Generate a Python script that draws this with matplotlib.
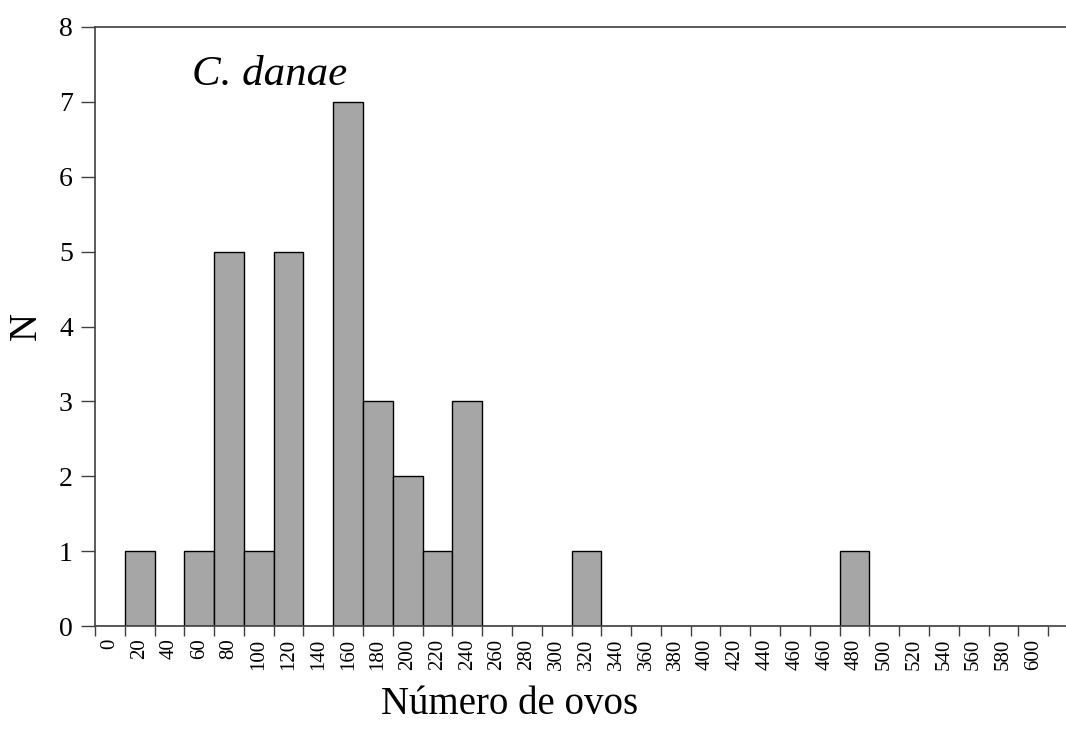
import matplotlib.pyplot as plt
import numpy as np

# category labels (the source repeats "460")
labels = ['0', '20', '40', '60', '80', '100', '120', '140', '160', '180',
          '200', '220', '240', '260', '280', '300', '320', '340', '360', '380',
          '400', '420', '440', '460', '460', '480', '500', '520', '540', '560',
          '580', '600']
counts = [0, 1, 0, 1, 5, 1, 5, 0, 7, 3,
          2, 1, 3, 0, 0, 0, 1, 0, 0, 0,
          0, 0, 0, 0, 0, 1, 0, 0, 0, 0,
          0, 0]

plt.rcParams['font.family'] = ['Liberation Serif', 'DejaVu Serif']

W, H = 1066, 729
fig = plt.figure(figsize=(W / 100, H / 100), dpi=100)
ax = fig.add_axes([95 / W, 1 - 626 / H, 1 - 95 / W, 599 / H])

x = np.arange(len(labels))
ax.bar(x, counts, width=1.0, color='#a6a6a6', edgecolor='black', linewidth=1.0, zorder=2)

ax.set_xlim(-0.5, 32.1)
ax.set_ylim(0, 8)

ax.set_xticks(x)
ax.set_xticklabels(labels, rotation=90, fontsize=15)
ax.tick_params(axis='x', which='major', length=0, pad=9)
ax.set_xticks(np.arange(-0.5, len(labels)), minor=True)
ax.tick_params(axis='x', which='minor', length=7, width=1, color='#404040', direction='out')

ax.set_yticks(range(0, 9))
ax.tick_params(axis='y', length=10, width=1, color='#404040', labelsize=20, pad=6)

for side in ['left', 'bottom', 'top']:
    ax.spines[side].set_color('#404040')
    ax.spines[side].set_linewidth(1.2)
ax.spines['right'].set_visible(False)

fig.text(26 / W, 1 - 326 / H, 'N', fontsize=28, rotation=90, ha='center', va='center')
fig.text(510 / W, 1 - 714 / H, 'Número de ovos', fontsize=28, ha='center', va='baseline')

ax.text(2.75, 7.36, 'C. danae', fontsize=31, style='italic', ha='left', va='center')

fig.savefig('out.png', dpi=100)
